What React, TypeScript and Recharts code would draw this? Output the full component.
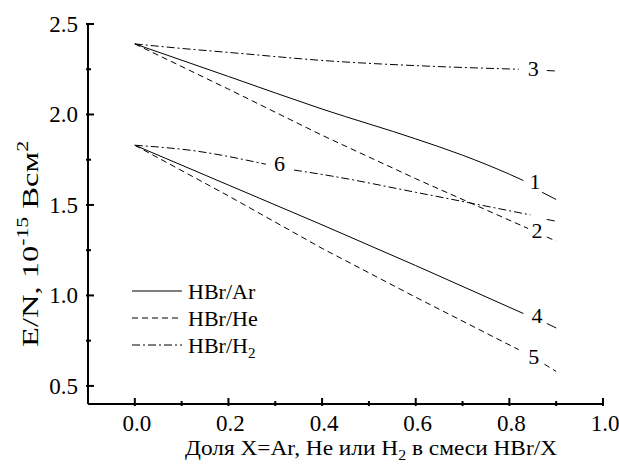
import React from 'react';
import { LineChart, Line, XAxis, YAxis, ReferenceDot, Legend } from 'recharts';

const FONT = "'Liberation Serif', 'Times New Roman', Times, serif";

// axis ticks
const xTicks = [0, 0.1, 0.2, 0.3, 0.4, 0.5, 0.6, 0.7, 0.8, 0.9, 1.0];
const yTicks = [0.5, 0.75, 1.0, 1.25, 1.5, 1.75, 2.0, 2.25, 2.5];

// curves (null = break in the line where the curve number sits)
const curve1 = [
  { x: 0, y: 2.39 }, { x: 0.2, y: 2.21 }, { x: 0.4, y: 2.03 }, { x: 0.6, y: 1.865 },
  { x: 0.7, y: 1.775 }, { x: 0.8, y: 1.67 }, { x: 0.83, y: 1.635 }, { x: 0.85, y: null },
  { x: 0.87, y: 1.57 }, { x: 0.9, y: 1.53 },
];
const curve2 = [
  { x: 0, y: 2.39 }, { x: 0.2, y: 2.14 }, { x: 0.4, y: 1.885 }, { x: 0.6, y: 1.645 },
  { x: 0.84, y: 1.37 }, { x: 0.86, y: null }, { x: 0.88, y: 1.323 }, { x: 0.9, y: 1.3 },
];
const curve3 = [
  { x: 0, y: 2.39 }, { x: 0.1, y: 2.365 }, { x: 0.2, y: 2.343 }, { x: 0.42, y: 2.295 },
  { x: 0.6, y: 2.27 }, { x: 0.82, y: 2.25 }, { x: 0.85, y: null }, { x: 0.88, y: 2.243 },
  { x: 0.9, y: 2.24 },
];
const curve4 = [
  { x: 0, y: 1.83 }, { x: 0.2, y: 1.61 }, { x: 0.4, y: 1.39 }, { x: 0.6, y: 1.165 },
  { x: 0.83, y: 0.9 }, { x: 0.855, y: null }, { x: 0.88, y: 0.845 }, { x: 0.9, y: 0.82 },
];
const curve5 = [
  { x: 0, y: 1.83 }, { x: 0.2, y: 1.55 }, { x: 0.4, y: 1.26 }, { x: 0.6, y: 0.99 },
  { x: 0.82, y: 0.7 }, { x: 0.85, y: null }, { x: 0.875, y: 0.62 }, { x: 0.9, y: 0.58 },
];
const curve6 = [
  { x: 0, y: 1.83 }, { x: 0.125, y: 1.8 }, { x: 0.28, y: 1.725 }, { x: 0.31, y: null },
  { x: 0.34, y: 1.693 }, { x: 0.42, y: 1.66 }, { x: 0.6, y: 1.57 }, { x: 0.845, y: 1.445 },
  { x: 0.86, y: null }, { x: 0.88, y: 1.42 }, { x: 0.9, y: 1.41 },
];

const curveLabels = [
  { x: 0.851, y: 2.257, text: '3' },
  { x: 0.855, y: 1.629, text: '1' },
  { x: 0.859, y: 1.362, text: '2' },
  { x: 0.309, y: 1.73, text: '6' },
  { x: 0.859, y: 0.892, text: '4' },
  { x: 0.852, y: 0.662, text: '5' },
];

const DASHED = '6 4';
const DASHDOT = '8 3 2 3';

const series = [
  { id: 'c1', data: curve1, dash: undefined, curve: 'monotone' },
  { id: 'c2', data: curve2, dash: DASHED, curve: 'linear' },
  { id: 'c3', data: curve3, dash: DASHDOT, curve: 'monotone' },
  { id: 'c4', data: curve4, dash: undefined, curve: 'linear' },
  { id: 'c5', data: curve5, dash: DASHED, curve: 'linear' },
  { id: 'c6', data: curve6, dash: DASHDOT, curve: 'monotone' },
];

const legendItems = [
  { name: 'HBr/Ar', sub: '', dash: undefined },
  { name: 'HBr/He', sub: '', dash: DASHED },
  { name: 'HBr/H', sub: '2', dash: DASHDOT },
];

const XTick = (props: any) => {
  const { x, y, payload } = props;
  const v = payload.value;
  const major = Math.round(v * 10) % 2 === 0;
  return (
    <g>
      <line x1={x} x2={x} y1={y} y2={y - (major ? 8 : 5)} stroke="#000" strokeWidth={2} />
      {major && (
        <text x={x + 2} y={y + 25} textAnchor="middle" fontSize={23} fontFamily={FONT} fill="#000">
          {v.toFixed(1)}
        </text>
      )}
    </g>
  );
};

const YTick = (props: any) => {
  const { x, y, payload } = props;
  const v = payload.value;
  const major = Math.abs(v * 2 - Math.round(v * 2)) < 1e-6;
  return (
    <g>
      <line x1={x} x2={x + (major ? 8 : 5)} y1={y} y2={y} stroke="#000" strokeWidth={2} />
      {major && (
        <text x={x - 8} y={y + 8} textAnchor="end" fontSize={23} fontFamily={FONT} fill="#000">
          {v.toFixed(1)}
        </text>
      )}
    </g>
  );
};

const XTitle = () => (
  <text x={371} y={455} textAnchor="middle" fontSize={22} fontFamily={FONT} fill="#000"
    textLength={372} lengthAdjust="spacingAndGlyphs">
    Доля  X=Ar, He или H<tspan fontSize={15} dy={5}>2</tspan>
    <tspan dy={-5}> в смеси HBr/X</tspan>
  </text>
);

const YTitle = () => {
  const cx = 38;
  const cy = 244;
  return (
    <text
      x={cx}
      y={cy}
      transform={`rotate(-90, ${cx}, ${cy})`}
      textAnchor="middle"
      fontSize={24}
      fontFamily={FONT}
      fill="#000"
      textLength={206}
      lengthAdjust="spacingAndGlyphs"
    >
      E/N, 10<tspan fontSize={16} dy={-10}>-15</tspan>
      <tspan dy={10}> Всм</tspan>
      <tspan fontSize={16} dy={-10}>2</tspan>
    </text>
  );
};

const LegendBox = () => (
  <svg width={200} height={90}>
    {legendItems.map((it, i) => {
      const cy = 16 + i * 27;
      return (
        <g key={it.name + it.sub}>
          <line x1={12} x2={62} y1={cy} y2={cy} stroke="#000" strokeWidth={1} strokeDasharray={it.dash} />
          <text x={68} y={cy + 8} fontSize={22} fontFamily={FONT} fill="#000">
            {it.name}
            {it.sub && <tspan fontSize={15} dy={5}>{it.sub}</tspan>}
          </text>
        </g>
      );
    })}
  </svg>
);

export default function App() {
  return (
    <div style={{ position: 'absolute', left: 0, top: 0, width: 619, height: 472, background: '#fff', fontFamily: FONT }}>
      <LineChart width={619} height={472} margin={{ top: 24, right: 16, bottom: 0, left: 0 }}>
        <XAxis
          dataKey="x"
          type="number"
          domain={[-0.1, 1.0]}
          ticks={xTicks}
          interval={0}
          height={68}
          tickSize={0}
          tickLine={false}
          tick={<XTick />}
          axisLine={{ stroke: '#000', strokeWidth: 2 }}
          allowDuplicatedCategory={false}
          label={<XTitle />}
        />
        <YAxis
          type="number"
          domain={[0.4, 2.5]}
          ticks={yTicks}
          interval={0}
          width={88}
          tickSize={0}
          tickLine={false}
          tick={<YTick />}
          axisLine={{ stroke: '#000', strokeWidth: 2 }}
          label={<YTitle />}
        />
        {series.map((s) => (
          <Line
            key={s.id}
            data={s.data}
            dataKey="y"
            type={s.curve as any}
            stroke="#000"
            strokeWidth={1}
            strokeDasharray={s.dash}
            dot={false}
            activeDot={false}
            connectNulls={false}
            isAnimationActive={false}
            legendType="none"
          />
        ))}
        {curveLabels.map((l) => (
          <ReferenceDot
            key={l.text}
            x={l.x}
            y={l.y}
            r={0}
            fill="none"
            stroke="none"
            label={{ value: l.text, position: 'center', fontSize: 22, fontFamily: FONT, fill: '#000' }}
          />
        ))}
        <Legend
          layout="horizontal"
          verticalAlign="middle"
          content={<LegendBox />}
          wrapperStyle={{ position: 'absolute', left: 120, top: 275, width: 200, height: 90 }}
        />
      </LineChart>
    </div>
  );
}
